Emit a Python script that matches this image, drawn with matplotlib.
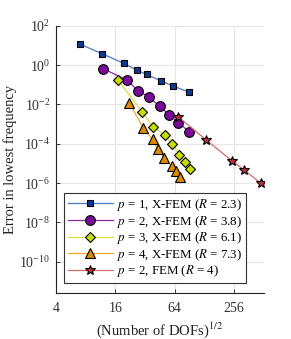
import numpy as np
import matplotlib
matplotlib.use('Agg')
import matplotlib.pyplot as plt

plt.rcParams['font.family'] = ['Liberation Serif', 'DejaVu Serif']
plt.rcParams['mathtext.fontset'] = 'stix'

# data (x = sqrt(DOFs), y = error)
x_p1 = [7.0, 11.8, 19.6, 26.3, 33.2, 46.9, 60.9, 88.5]
y_p1 = [11.7, 3.76, 1.21, 0.557, 0.336, 0.153, 0.0885, 0.0423]

x_p2 = [12.1, 20.8, 27.1, 35.2, 44.9, 56.3, 69.5, 89.8]
y_p2 = [0.649, 0.179, 0.0509, 0.0230, 8.18e-3, 2.96e-3, 1.20e-3, 4.04e-4]

x_p3 = [17.1, 30.1, 38.7, 50.9, 60.7, 71.4, 82.1, 91.3]
y_p3 = [0.168, 4.06e-3, 7.0e-4, 2.84e-4, 9.9e-5, 2.72e-5, 1.13e-5, 4.98e-6]

x_p4 = [22.1, 30.7, 38.2, 42.9, 50.1, 59.5, 65.8, 72.3]
y_p4 = [0.0125, 6.2e-4, 1.71e-4, 5.3e-5, 1.85e-5, 7.5e-6, 3.9e-6, 2.07e-6]

x_fem = [69.5, 132.6, 241.5, 321.8, 475.0]
y_fem = [2.34e-3, 1.58e-4, 1.40e-5, 4.70e-6, 9.9e-7]

labels = [r'$p$ = 1, X-FEM ($R$ = 2.3)',
          r'$p$ = 2, X-FEM ($R$ = 3.8)',
          r'$p$ = 3, X-FEM ($R$ = 6.1)',
          r'$p$ = 4, X-FEM ($R$ = 7.3)',
          r'$p$ = 2, FEM ($R$ = 4)']

xticks = [4, 16, 64, 256]
xticklabels = ['4', '16', '64', '256']
yticks = [1e2, 1e0, 1e-2, 1e-4, 1e-6, 1e-8, 1e-10]

fig = plt.figure(figsize=(2.91, 3.39), dpi=100)
ax = fig.add_axes([0.192, 0.135, 0.715, 0.789])

series = [
    (x_p1, y_p1, 's', '#0d3a94', '#4f79c8', 5.0),
    (x_p2, y_p2, 'o', '#7a0a9a', '#8a2aa8', 7.0),
    (x_p3, y_p3, 'D', '#c8dc00', '#d6e03a', 5.5),
    (x_p4, y_p4, '^', '#dc8a00', '#f0a830', 7.0),
    (x_fem, y_fem, '*', '#c03030', '#d46a6a', 7.0),
]
for (xs, ys, m, fc, lc, ms), lab in zip(series, labels):
    ax.plot(xs, ys, color=lc, lw=0.9, marker=m, ms=ms, mfc=fc,
            mec='black', mew=0.8, label=lab)

ax.set_xscale('log', base=2)
ax.set_yscale('log')
ax.set_xlim(4, 512)
ax.set_ylim(10**-11.6, 1e2)
ax.set_xticks(xticks)
ax.set_xticklabels(xticklabels)
ax.set_yticks(yticks)
ax.minorticks_off()
ax.grid(True, color='#e6e6e6', lw=0.8)
ax.set_axisbelow(True)
for s in ['top', 'right']:
    ax.spines[s].set_visible(False)
for s in ['left', 'bottom']:
    ax.spines[s].set_linewidth(0.8)
    ax.spines[s].set_color('#222222')
ax.tick_params(direction='in', length=3, width=0.6, labelsize=10, colors='#222222',
               labelcolor='#333333', pad=6)
ax.tick_params(axis='y', pad=4)

ax.set_xlabel(r'(Number of DOFs)$^{1/2}$', fontsize=10.5, color='#222222', labelpad=4)
ax.set_ylabel('Error in lowest frequency', fontsize=10.5, color='#222222', labelpad=2)

leg = ax.legend(loc='lower left', bbox_to_anchor=(0.038, 0.037), fontsize=9.3,
                handlelength=3.5, handletextpad=0.3, borderpad=0.3,
                labelspacing=0.05, fancybox=False, framealpha=1,
                edgecolor='#333333', borderaxespad=0)
leg.get_frame().set_linewidth(0.8)

fig.savefig('out.png', dpi=100)
